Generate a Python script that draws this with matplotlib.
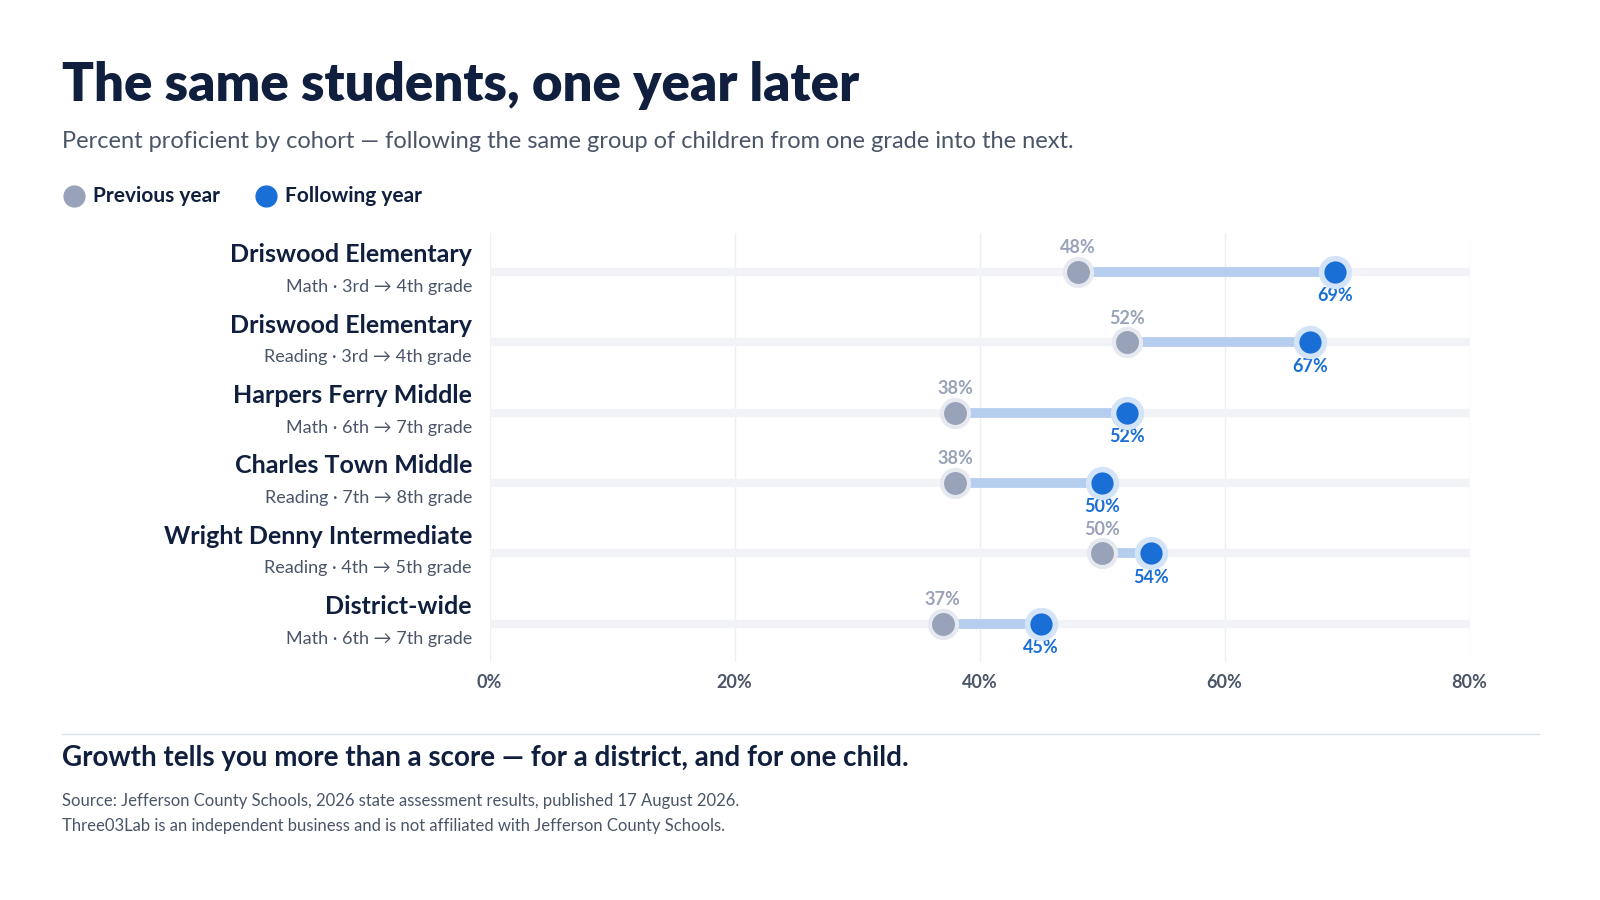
import matplotlib
matplotlib.use("Agg")
import matplotlib.pyplot as plt

schools = ["Driswood Elementary", "Driswood Elementary", "Harpers Ferry Middle",
           "Charles Town Middle", "Wright Denny Intermediate", "District-wide"]
subtitles = ["Math · 3rd → 4th grade", "Reading · 3rd → 4th grade", "Math · 6th → 7th grade",
             "Reading · 7th → 8th grade", "Reading · 4th → 5th grade", "Math · 6th → 7th grade"]
previous = [48, 52, 38, 38, 50, 37]
following = [69, 67, 52, 50, 54, 45]
xticks = [0, 20, 40, 60, 80]

plt.rcParams['font.family'] = ['Lato', 'DejaVu Sans']
NAVY = "#0f1f3d"; GRAY = "#98a2b8"; BLUE = "#1a6fd6"; LBLUE = "#b5cdee"; SUB = "#4a5568"

fig = plt.figure(figsize=(16, 9), dpi=100)
ax = fig.add_axes([0.306, 0.264, 0.6125, 0.477])
n = len(schools)
ax.set_xlim(0, 80); ax.set_ylim(n - 0.45, -0.55)
for s in ax.spines.values(): s.set_visible(False)
ax.set_yticks([])
ax.set_xticks(xticks)
ax.set_xticklabels([f"{t}%" for t in xticks], fontsize=13, color=SUB, fontweight='bold')
ax.tick_params(axis='x', length=0, pad=8)
for t in xticks:
    ax.axvline(t, color="#eceff4", lw=1, zorder=0)
for i in range(n):
    ax.plot([0, 80], [i, i], color="#f1f3f7", lw=6, solid_capstyle='butt', zorder=1)
    p, f = previous[i], following[i]
    ax.plot([p, f], [i, i], color=LBLUE, lw=7, solid_capstyle='butt', zorder=2)
    ax.scatter([p], [i], s=380, color=GRAY, edgecolors='#e6e9ef', linewidths=3, zorder=3)
    ax.scatter([f], [i], s=400, color=BLUE, edgecolors='#d3e3f8', linewidths=4, zorder=4)
    ax.text(p, i - 0.22, f"{p}%", ha='center', va='bottom', fontsize=13, color=GRAY, fontweight='bold')
    ax.text(f, i + 0.22, f"{f}%", ha='center', va='top', fontsize=13, color=BLUE, fontweight='bold')
    ax.text(-0.018, i - 0.08, schools[i], transform=ax.get_yaxis_transform(), ha='right', va='bottom',
            fontsize=18, color=NAVY, fontweight='bold')
    ax.text(-0.018, i + 0.1, subtitles[i], transform=ax.get_yaxis_transform(), ha='right', va='top',
            fontsize=13, color=SUB)

fig.text(0.039, 0.905, "The same students, one year later", fontsize=38, fontweight='heavy',
         color=NAVY, va='center')
fig.text(0.039, 0.843, "Percent proficient by cohort — following the same group of children from one grade into the next.",
         fontsize=17, color=SUB, va='center')
fig.add_artist(plt.Line2D([0.046], [0.782], marker='o', markersize=15, color=GRAY, lw=0, transform=fig.transFigure))
fig.text(0.058, 0.782, "Previous year", fontsize=15, color=NAVY, fontweight='bold', va='center')
fig.add_artist(plt.Line2D([0.166], [0.782], marker='o', markersize=15, color=BLUE, lw=0, transform=fig.transFigure))
fig.text(0.178, 0.782, "Following year", fontsize=15, color=NAVY, fontweight='bold', va='center')

fig.add_artist(plt.Line2D([0.039, 0.962], [0.185, 0.185], color="#dde2ea", lw=1, transform=fig.transFigure))
fig.text(0.039, 0.158, "Growth tells you more than a score — for a district, and for one child.",
         fontsize=20, fontweight='bold', color=NAVY, va='center')
fig.text(0.039, 0.11, "Source: Jefferson County Schools, 2026 state assessment results, published 17 August 2026.",
         fontsize=12, color=SUB, va='center')
fig.text(0.039, 0.082, "Three03Lab is an independent business and is not affiliated with Jefferson County Schools.",
         fontsize=12, color=SUB, va='center')
fig.savefig("out.png", dpi=100, facecolor='white')
